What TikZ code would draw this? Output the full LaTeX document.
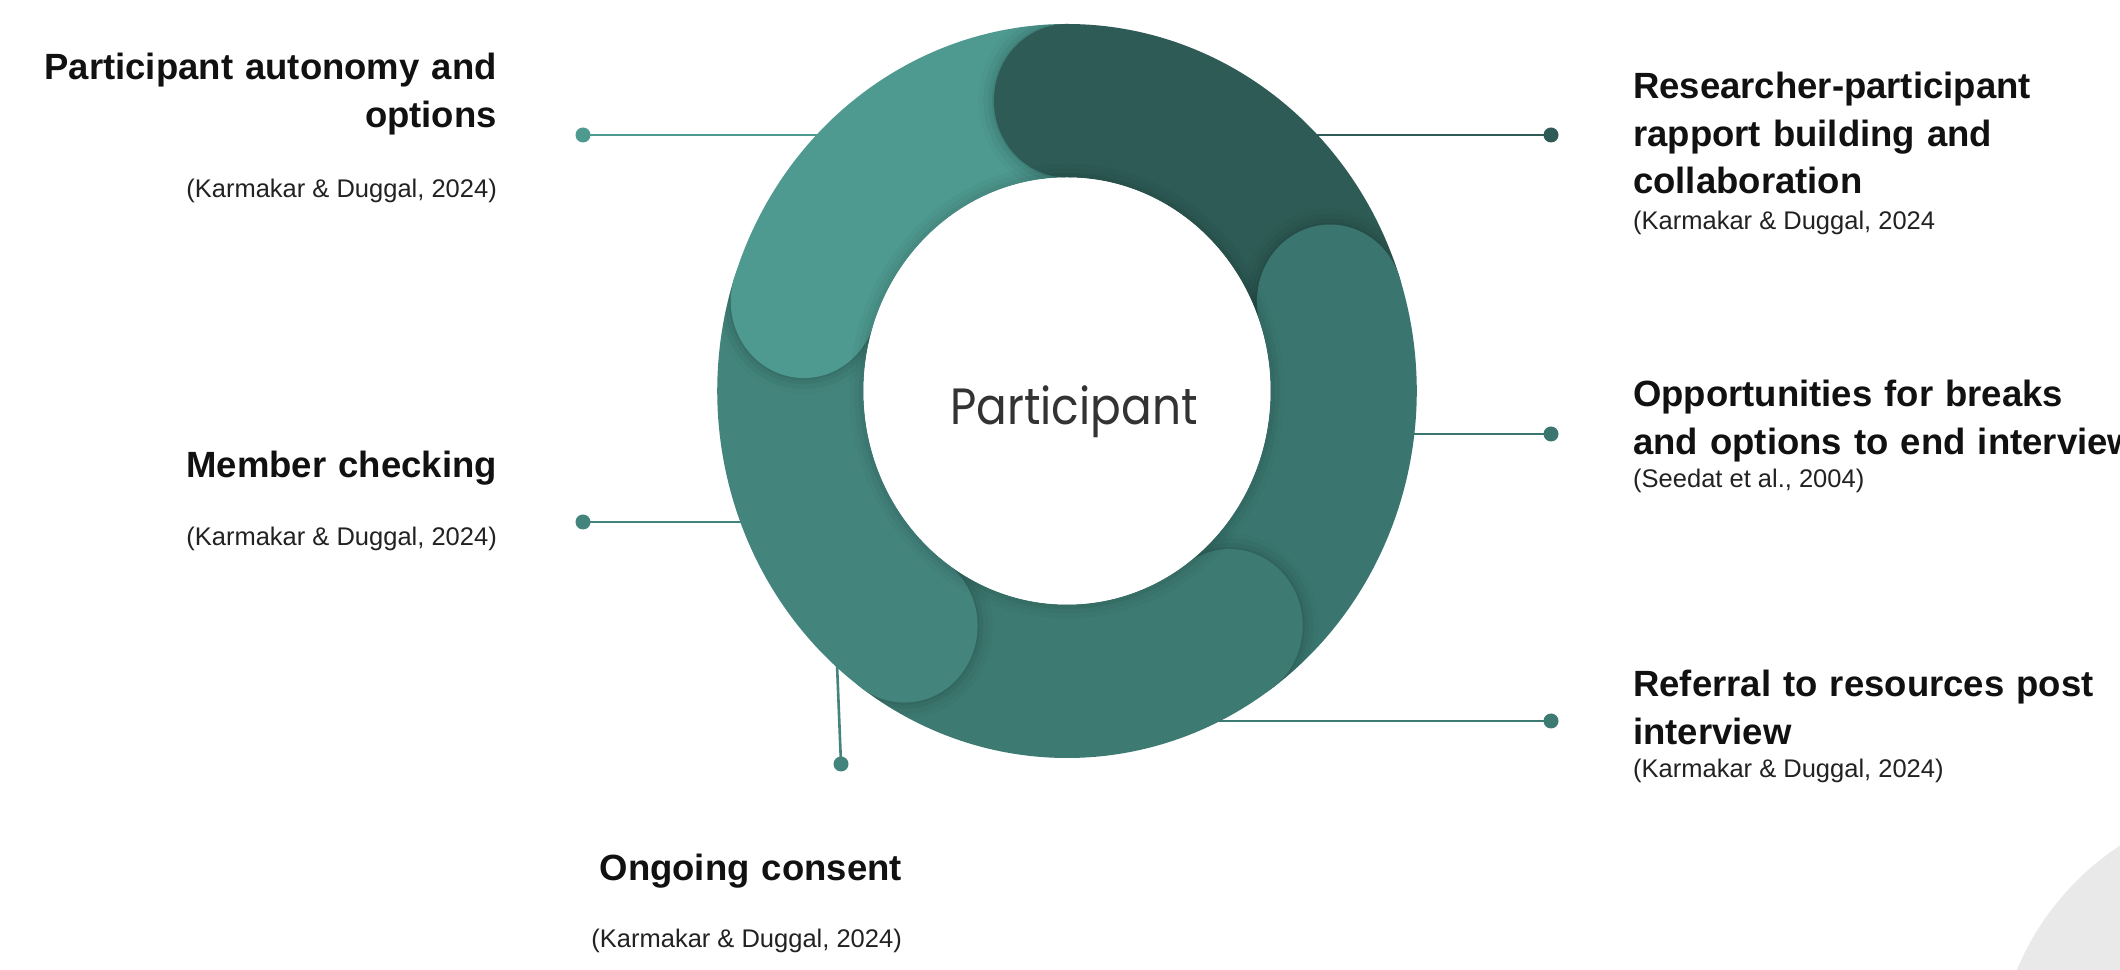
\documentclass[tikz,border=0pt]{standalone}
\usepackage{fontspec}
\setmainfont{Liberation Sans}
\newfontfamily\centerfont{Poppins}
\definecolor{segA}{HTML}{2E5B55}
\definecolor{segB}{HTML}{3A766F}
\definecolor{segC}{HTML}{3D7A72}
\definecolor{segD}{HTML}{43857C}
\definecolor{segE}{HTML}{4E9990}
\definecolor{bggrey}{HTML}{E9E9E9}
\definecolor{textblack}{HTML}{111111}
\definecolor{citegrey}{HTML}{222222}
\definecolor{centergrey}{HTML}{333333}
\begin{document}
\begin{tikzpicture}[x=1pt,y=1pt,
  titleR/.style={font=\bfseries\fontsize{36.5}{47.5}\selectfont, text=textblack, inner sep=0pt, text width=700pt, align=left, anchor=base west},
  titleL/.style={font=\bfseries\fontsize{36.5}{47.5}\selectfont, text=textblack, inner sep=0pt, text width=600pt, align=right, anchor=base east},
  citeR/.style={font=\fontsize{25.5}{30}\selectfont, text=citegrey, inner sep=0pt, anchor=base west},
  citeL/.style={font=\fontsize{25.5}{30}\selectfont, text=citegrey, inner sep=0pt, anchor=base east},
  dotnode/.style={circle, fill=#1, minimum size=15pt, inner sep=0pt},
  conn/.style={draw=#1, line width=2.6pt}
]
\clip (0,0) rectangle (2120,969);
\fill[white] (0,0) rectangle (2120,969);
\fill[bggrey] (2270,-106) circle (274);

% connector end points inside the ring
\coordinate (e1) at (845,834);
\coordinate (e2) at (1290,834);
\coordinate (e3) at (1390,535);
\coordinate (e4) at (1195,248);
\coordinate (e5) at (765,447);
\coordinate (e6) at (836,330);

% dots
\node[dotnode=segE] (d1) at (583,834) {};
\node[dotnode=segA] (d2) at (1551,834) {};
\node[dotnode=segB] (d3) at (1551,535) {};
\node[dotnode=segC] (d4) at (1551,248) {};
\node[dotnode=segD] (d5) at (583,447) {};
\node[dotnode=segD] (d6) at (841,205) {};

\draw[conn=segE] (d1.center) -- (e1);
\draw[conn=segA] (d2.center) -- (e2);
\draw[conn=segB] (d3.center) -- (e3);
\draw[conn=segC] (d4.center) -- (e4);
\draw[conn=segD] (d5.center) -- (e5);
\draw[conn=segD] (d6.center) -- (e6);

\begin{scope}[shift={(1067,578)}, xscale=0.953]
  \coordinate (C) at (0,0);
  % ring bodies
  \foreach \a/\col in {90/segA,18/segB,-54/segC,-126/segD,-198/segE}{
    \fill[\col] (\a:367) arc[start angle=\a, end angle=\a-72, radius=367]
      -- (\a-72:213.5) arc[start angle=\a-72, end angle=\a, radius=213.5] -- cycle;
  }
  % cap shadows, kept inside the ring
  \begin{scope}[even odd rule]
    \clip (C) circle (367) (C) circle (213.5);
    \foreach \a in {90,18,-54,-126,-198}{
      \foreach \d/\o in {16/0.02,11/0.03,6/0.045,2/0.06}{
        \fill[black,opacity=\o] ([shift={(\a:290.25)}]\a:76.75+\d)
          arc[start angle=\a, end angle=\a+180, radius=76.75+\d] -- cycle;
      }
    }
  \end{scope}
  % caps
  \foreach \a/\col in {90/segA,18/segB,-54/segC,-126/segD,-198/segE}{
    \fill[\col] ([shift={(\a:290.25)}]\a-5:76.75)
      arc[start angle=\a-5, end angle=\a+185, radius=76.75] -- cycle;
  }
  % inner disk shadow
  \foreach \w/\o in {28/0.025,18/0.03,9/0.04}{
    \draw[black,opacity=\o,line width=\w pt] (C) circle (213.5);
  }
  \fill[white] (C) circle (213.5);
\end{scope}

\node[font=\centerfont\fontsize{51}{56}\selectfont, text=centergrey, anchor=base, inner sep=0pt] (center) at (1074,544) {\scalebox{0.89}[1]{Participant}};

% left labels
\node[titleL] (t1) at (497,889) {Participant autonomy and\\options};
\node[citeL] (c1) at (497,771) {(Karmakar \& Duggal, 2024)};
\node[titleL] (t5) at (497,491) {Member checking};
\node[citeL] (c5) at (497,423) {(Karmakar \& Duggal, 2024)};

% right labels
\node[titleR] (t2) at (1633,870) {Researcher-participant\\rapport building and\\collaboration};
\node[citeR] (c2) at (1633,739) {(Karmakar \& Duggal, 2024};
\node[titleR] (t3) at (1633,562) {Opportunities for breaks\\and options to end interview};
\node[citeR] (c3) at (1633,481) {(Seedat et al., 2004)};
\node[titleR] (t4) at (1633,272) {Referral to resources post\\interview};
\node[citeR] (c4) at (1633,191) {(Karmakar \& Duggal, 2024)};

% bottom label
\node[titleL] (t6) at (902,88) {Ongoing consent};
\node[citeL] (c6) at (902,21) {(Karmakar \& Duggal, 2024)};
\end{tikzpicture}
\end{document}
